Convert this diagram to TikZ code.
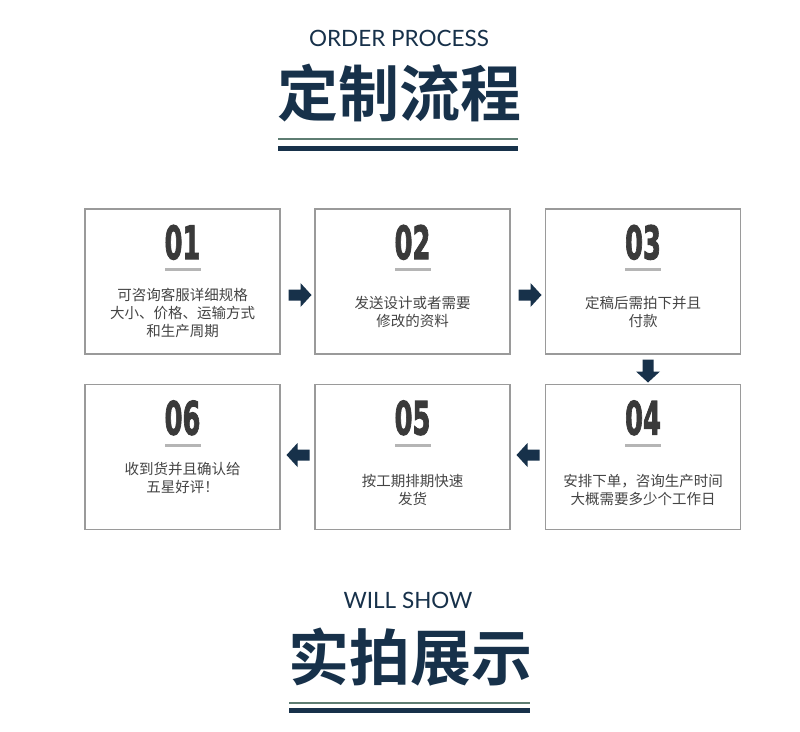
\documentclass[tikz,border=0pt]{standalone}
\usepackage{fontspec}
\setmainfont{Liberation Sans}
\newfontfamily\cjk{Noto Sans CJK SC}
\newfontfamily\cjkb{Noto Sans CJK SC Bold}
\newfontfamily\latin{Lato}
\newfontfamily\numf{DejaVu Sans}[BoldFeatures={FakeBold=2.5}]
\definecolor{navy}{HTML}{17314A}
\definecolor{rulegreen}{HTML}{5E7D72}
\definecolor{boxgray}{HTML}{9A9A9A}
\definecolor{numgray}{HTML}{3A3A3A}
\definecolor{bargray}{HTML}{B5B5B5}
\definecolor{txtgray}{HTML}{444444}
\tikzset{
  stepbox/.style={draw=boxgray, line width=1.3pt, minimum width=195pt, minimum height=145pt, inner sep=0pt},
  numtxt/.style={text=numgray, font=\numf\bfseries\fontsize{46}{46}\selectfont, xscale=0.56, inner sep=0pt},
  bodytxt/.style={text=txtgray, font=\cjk\fontsize{14.5}{18}\selectfont, align=center, inner sep=0pt},
  entitle/.style={text=navy, font=\latin\fontsize{22.5}{22.5}\selectfont, inner sep=0pt},
  cntitle/.style={text=navy, font=\cjkb\fontsize{61}{61}\selectfont, inner sep=0pt},
  blockarrow/.pic={\fill[navy] (-11.5,-5.5) -- (0.5,-5.5) -- (0.5,-12) -- (11.5,0) -- (0.5,12) -- (0.5,5.5) -- (-11.5,5.5) -- cycle;}
}
\begin{document}
\begin{tikzpicture}[x=1pt,y=-1pt]
\useasboundingbox[fill=white] (0,0) rectangle (800,731);
% header
\node[entitle] (t1) at (399,38) {ORDER PROCESS};
\node[cntitle] (t2) at (399,93) {定制流程};
\fill[rulegreen] (278,137.5) rectangle (518,139.5);
\fill[navy] (278,145.5) rectangle (518,150.5);
% boxes
\foreach \n/\x/\y in {1/182.5/281.5, 2/412.5/281.5, 3/643/281.5, 6/182.5/457, 5/412.5/457, 4/643/457}{
  \node[stepbox] (b\n) at (\x,\y) {};
}
% numbers and bars
\foreach \n/\lab in {1/01,2/02,3/03,4/04,5/05,6/06}{
  \node[numtxt] (n\n) at ([yshift=-34pt]b\n.north) {\lab};
  \fill[bargray] ([xshift=-18pt,yshift=-60pt]b\n.north) rectangle ([xshift=18pt,yshift=-63pt]b\n.north);
}
% texts
\node[bodytxt] (x1) at ([yshift=-105pt]b1.north) {可咨询客服详细规格\\大小、价格、运输方式\\和生产周期};
\node[bodytxt] (x2) at ([yshift=-104pt]b2.north) {发送设计或者需要\\修改的资料};
\node[bodytxt] (x3) at ([yshift=-104pt]b3.north) {定稿后需拍下并且\\付款};
\node[bodytxt] (x4) at ([yshift=-106pt]b4.north) {安排下单，咨询生产时间\\大概需要多少个工作日};
\node[bodytxt] (x5) at ([yshift=-106pt]b5.north) {按工期排期快速\\发货};
\node[bodytxt] (x6) at ([yshift=-94pt]b6.north) {收到货并且确认给\\五星好评！};
% arrows
\coordinate (a12) at (300,295);
\coordinate (a23) at (530,295);
\coordinate (a34) at (648,371);
\coordinate (a45) at (528,455);
\coordinate (a56) at (298,455);
\pic at (a12) {blockarrow};
\pic at (a23) {blockarrow};
\pic[rotate=-90] at (a34) {blockarrow};
\pic[rotate=180] at (a45) {blockarrow};
\pic[rotate=180] at (a56) {blockarrow};
% footer
\node[entitle] (t3) at (408,600) {WILL SHOW};
\node[cntitle] (t4) at (410,657) {实拍展示};
\fill[rulegreen] (289,702) rectangle (530,704);
\fill[navy] (289,707.5) rectangle (530,712.5);
\end{tikzpicture}
\end{document}
